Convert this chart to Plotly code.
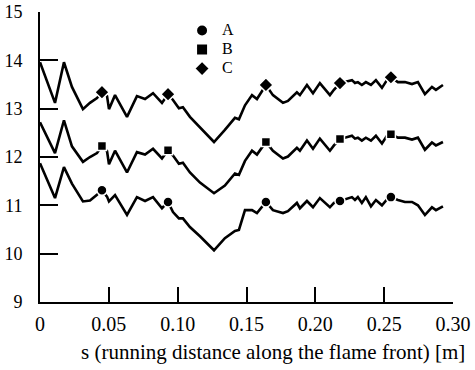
import plotly.graph_objects as go

s = [0.000, 0.0109, 0.0174, 0.0232, 0.0312, 0.0363, 0.0414, 0.0450, 0.0487, 0.0501,
     0.0545, 0.0632, 0.0704, 0.0763, 0.0821, 0.0886, 0.0930, 0.0966, 0.1009, 0.1038,
     0.1089, 0.1162, 0.1264, 0.1343, 0.1416, 0.1445, 0.1489, 0.1540, 0.1576, 0.1641,
     0.1692, 0.1765, 0.1801, 0.1866, 0.1888, 0.1939, 0.1983, 0.2033, 0.2106, 0.2135,
     0.2179, 0.2266, 0.2288, 0.2309, 0.2338, 0.2367, 0.2404, 0.2440, 0.2484, 0.2520,
     0.2549, 0.2600, 0.2651, 0.2702, 0.2745, 0.2796, 0.2847, 0.2876, 0.2927]

c_vals = [13.96, 13.12, 13.96, 13.45, 12.99, 13.12, 13.22, 13.34, 13.26, 12.99,
          13.28, 12.83, 13.26, 13.20, 13.32, 13.12, 13.30, 13.18, 13.01, 13.03,
          12.83, 12.62, 12.31, 12.56, 12.81, 12.78, 13.07, 13.28, 13.20, 13.49,
          13.28, 13.12, 13.16, 13.34, 13.28, 13.49, 13.32, 13.53, 13.28, 13.39,
          13.53, 13.59, 13.53, 13.55, 13.49, 13.55, 13.49, 13.59, 13.43, 13.59,
          13.65, 13.55, 13.55, 13.51, 13.55, 13.30, 13.45, 13.39, 13.49]

b_vals = [12.72, 12.08, 12.76, 12.22, 11.90, 12.00, 12.08, 12.23, 12.12, 11.85,
          12.13, 11.68, 12.10, 12.05, 12.17, 11.97, 12.14, 12.03, 11.86, 11.88,
          11.68, 11.47, 11.25, 11.41, 11.66, 11.63, 11.92, 12.13, 12.05, 12.31,
          12.13, 11.97, 12.01, 12.19, 12.13, 12.34, 12.17, 12.38, 12.13, 12.24,
          12.37, 12.44, 12.38, 12.40, 12.34, 12.40, 12.34, 12.44, 12.28, 12.44,
          12.47, 12.40, 12.40, 12.36, 12.40, 12.15, 12.30, 12.24, 12.31]

a_vals = [11.87, 11.15, 11.79, 11.45, 11.08, 11.10, 11.22, 11.31, 11.18, 11.08,
          11.21, 10.80, 11.17, 11.09, 11.17, 10.94, 11.07, 10.86, 10.73, 10.73,
          10.55, 10.36, 10.07, 10.32, 10.47, 10.49, 10.90, 10.90, 10.84, 11.07,
          10.90, 10.84, 10.88, 11.05, 10.94, 11.09, 10.96, 11.15, 10.96, 11.05,
          11.09, 11.17, 11.11, 11.17, 11.05, 11.17, 10.98, 11.11, 11.00, 11.12,
          11.17, 11.11, 11.07, 11.07, 11.00, 10.80, 10.96, 10.90, 10.98]

marker_s = [0.0450, 0.0930, 0.1641, 0.2179, 0.2549]
a_marks = [11.31, 11.07, 11.07, 11.09, 11.17]
b_marks = [12.23, 12.14, 12.31, 12.37, 12.47]
c_marks = [13.34, 13.30, 13.49, 13.53, 13.65]

series = [("A", a_vals, a_marks, "circle", 10),
          ("B", b_vals, b_marks, "square", 9),
          ("C", c_vals, c_marks, "diamond", 11)]

x_ticks = [0, 0.05, 0.10, 0.15, 0.20, 0.25, 0.30]
x_ticktext = ["0", "0.05", "0.10", "0.15", "0.20", "0.25", "0.30"]
y_ticks = [9, 10, 11, 12, 13, 14, 15]

fig = go.Figure()
for name, vals, marks, sym, size in series:
    fig.add_trace(go.Scatter(x=s, y=vals, mode="lines",
                             line=dict(color="black", width=2.6),
                             showlegend=False, hoverinfo="skip"))
for name, vals, marks, sym, size in series:
    fig.add_trace(go.Scatter(x=marker_s, y=marks, mode="markers",
                             name="<span style='font-size:16px'>%s</span>" % name,
                             marker=dict(symbol=sym, size=size, color="black",
                                         line=dict(color="white", width=1.5))))

font_family = "Liberation Serif, Times New Roman, serif"
fig.update_layout(
    width=475, height=370,
    margin=dict(l=40, r=22, t=12, b=68, autoexpand=False),
    paper_bgcolor="white", plot_bgcolor="white",
    font=dict(family=font_family, size=17, color="black"),
    showlegend=True,
    legend=dict(x=0.344, y=0.986, xanchor="left", yanchor="top",
                bgcolor="rgba(0,0,0,0)", font=dict(size=12),
                itemsizing="constant", tracegroupgap=0),
    xaxis=dict(range=[0, 0.30], tickvals=x_ticks, ticktext=x_ticktext,
               ticks="inside", ticklen=15, tickwidth=1.5, tickcolor="black",
               showline=True, linecolor="black", linewidth=2,
               showgrid=False, zeroline=False, ticklabelstandoff=3,
               ticklabeloverflow="allow",
               automargin=False, tickfont=dict(size=20)),
    yaxis=dict(range=[9, 15], tickvals=y_ticks,
               ticks="inside", ticklen=18, tickwidth=1.5, tickcolor="black",
               showline=True, linecolor="black", linewidth=2,
               showgrid=False, zeroline=False, ticklabelstandoff=12,
               ticklabeloverflow="allow",
               automargin=False, tickfont=dict(size=18)),
    annotations=[dict(text="s (running distance along the flame front) [m]",
                      xref="paper", yref="paper", x=0.563, y=-0.172,
                      xanchor="center", yanchor="middle", showarrow=False,
                      font=dict(size=21))],
)

fig.write_html("out.html", config={"displayModeBar": False},
               post_script="document.body.style.margin='0';")
